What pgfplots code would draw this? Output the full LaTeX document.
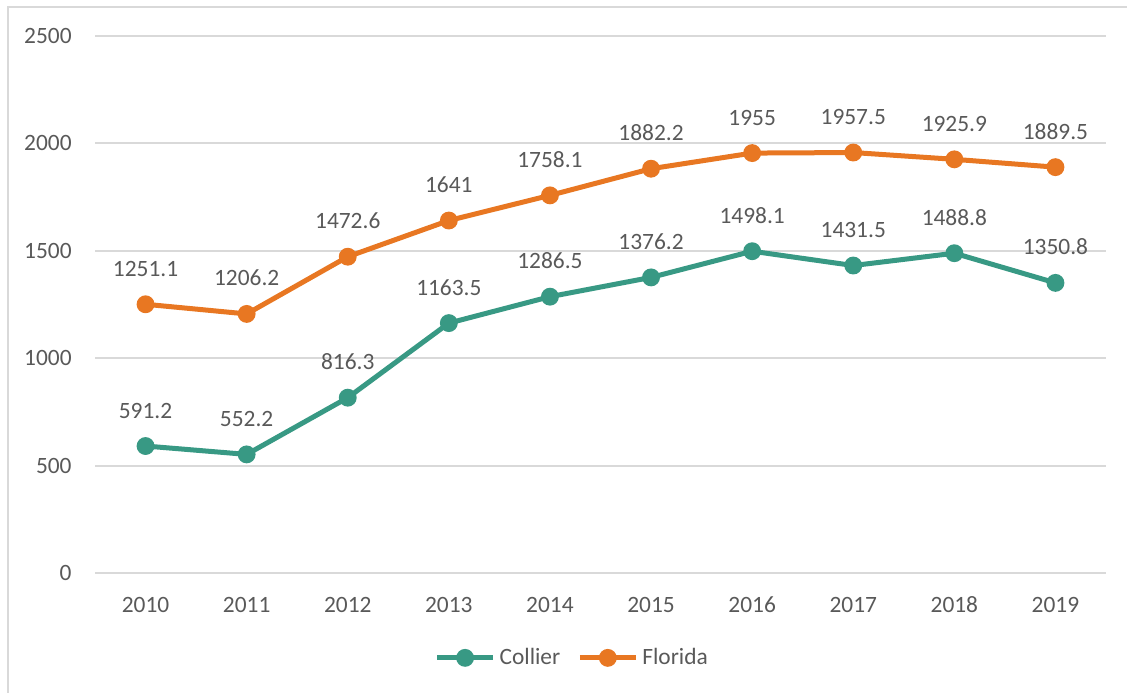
\documentclass[border=0pt]{standalone}
\usepackage{pgfplots}
\pgfplotsset{compat=1.18}
\usepackage{fontspec}
\setmainfont{Carlito}
\definecolor{txtgray}{RGB}{89,89,89}
\definecolor{gridgray}{RGB}{217,217,217}
\definecolor{collier}{RGB}{56,153,132}
\definecolor{florida}{RGB}{232,119,34}

\begin{document}
\fontsize{11.7pt}{14pt}\selectfont
\begin{tikzpicture}
% picture area 1127x692 px at 0.5pt per px, origin top-left
\path[use as bounding box, clip] (0pt,0pt) rectangle (563.5pt,-346pt);
\draw[gridgray, line width=1pt] (4pt,-360pt) -- (4pt,-3.5pt) -- (580pt,-3.5pt);
\begin{axis}[
    at={(47.5pt,-286.5pt)}, anchor=south west,
    scale only axis,
    width=505.5pt, height=268.5pt,
    xmin=-0.5, xmax=9.5,
    ymin=0, ymax=2500,
    xtick={0,...,9},
    xticklabels={2010,2011,2012,2013,2014,2015,2016,2017,2018,2019},
    ytick={0,500,1000,1500,2000,2500},
    ymajorgrids,
    grid style={gridgray, line width=1pt},
    axis line style={draw=none},
    major tick length=0pt,
    clip=false,
    /pgf/number format/assume math mode=true,
    /pgf/number format/1000 sep={},
    tick label style={font=\fontsize{11.7pt}{14pt}\selectfont, text=txtgray},
    yticklabel style={anchor=east, inner sep=0pt, xshift=-11.5pt},
    xticklabel style={anchor=base, inner sep=0pt, yshift=-19.5pt},
    point meta=explicit symbolic,
    nodes near coords,
    every node near coord/.append style={anchor=base, inner sep=0pt, yshift=14pt,
        text=txtgray, font=\fontsize{11.7pt}{14pt}\selectfont},
    legend style={at={(0.473,-0.158)}, anchor=center, draw=none, fill=none,
        legend columns=2, font=\fontsize{11.7pt}{14pt}\selectfont, text=txtgray,
        /tikz/every even column/.append style={column sep=6.5pt},
        inner sep=0pt},
    legend image code/.code={
        \draw[#1, mark repeat=2, mark phase=2] plot coordinates {(0pt,0pt) (14pt,0pt) (28pt,0pt)};
    },
]
\addplot[collier, line width=2.5pt, mark=*, mark size=3.2pt, mark options={solid}]
  coordinates {(0,591.2)[591.2] (1,552.2)[552.2] (2,816.3)[816.3] (3,1163.5)[1163.5]
  (4,1286.5)[1286.5] (5,1376.2)[1376.2] (6,1498.1)[1498.1] (7,1431.5)[1431.5]
  (8,1488.8)[1488.8] (9,1350.8)[1350.8]};
\addlegendentry{Collier}
\addplot[florida, line width=2.5pt, mark=*, mark size=3.2pt, mark options={solid}]
  coordinates {(0,1251.1)[1251.1] (1,1206.2)[1206.2] (2,1472.6)[1472.6] (3,1641)[1641]
  (4,1758.1)[1758.1] (5,1882.2)[1882.2] (6,1955)[1955] (7,1957.5)[1957.5]
  (8,1925.9)[1925.9] (9,1889.5)[1889.5]};
\addlegendentry{Florida}
\end{axis}
\end{tikzpicture}
\end{document}
